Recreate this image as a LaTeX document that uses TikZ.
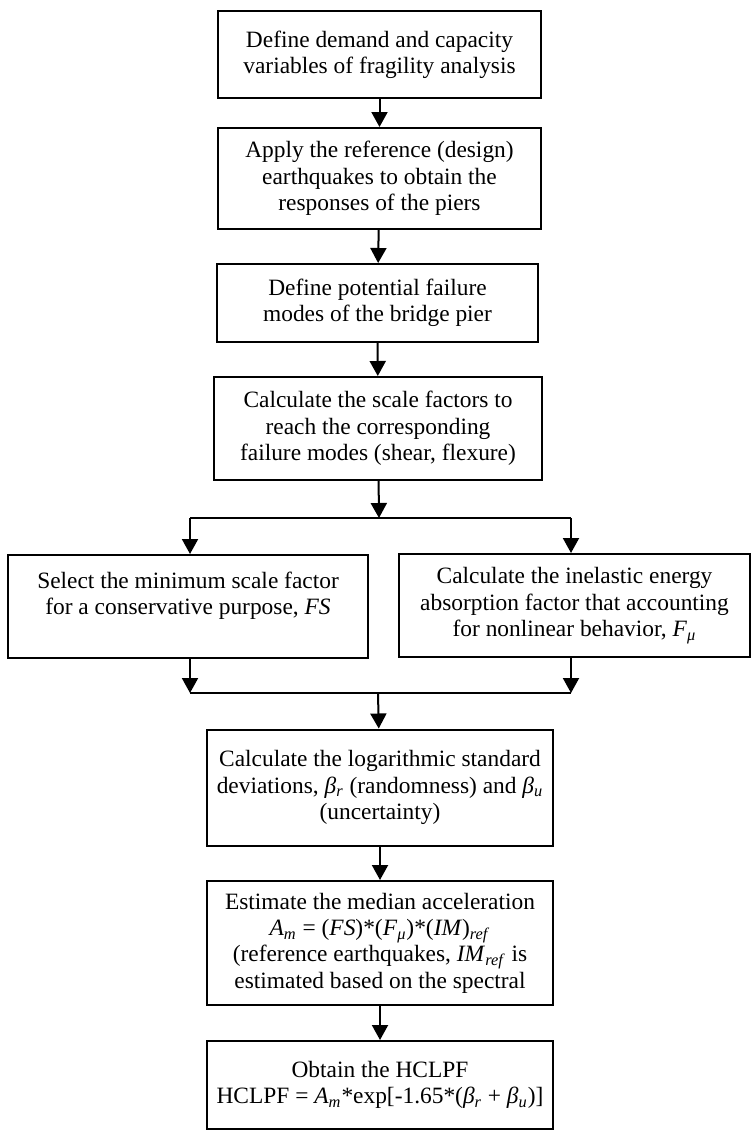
\documentclass[tikz,border=0pt]{standalone}
\usepackage{fontspec}
\setmainfont{Liberation Serif}
\usepackage{tikz}
\usetikzlibrary{arrows.meta}

\newcommand{\isub}[1]{\textsubscript{\textit{#1}}}

\tikzset{
    box/.style={draw, line width=1pt, align=center, inner sep=0pt,
        font=\fontsize{11.7}{13.2}\selectfont},
    arr/.style={line width=1pt, -{Triangle[length=7.5pt,width=8pt]}}
}

\begin{document}
\begin{tikzpicture}[x=0.5pt, y=-0.5pt]
    \useasboundingbox (0,0) rectangle (752,1130);

    % Boxes
    \node[box, minimum width=161.5pt, minimum height=43.5pt] (b1) at (379.5,54.5)
        {Define demand and capacity\\ variables of fragility analysis};
    \node[box, minimum width=161.5pt, minimum height=50.5pt] (b2) at (379.5,178.5)
        {Apply the reference (design)\\ earthquakes to obtain the\\ responses of the piers};
    \node[box, minimum width=160.5pt, minimum height=39pt] (b3) at (377.5,303)
        {Define potential failure\\ modes of the bridge pier};
    \node[box, minimum width=164pt, minimum height=51.5pt] (b4) at (378,428.5)
        {Calculate the scale factors to\\ reach the corresponding\\ failure modes (shear, flexure)};

    \node[box, minimum width=180pt, minimum height=51.5pt] (fs) at (188,606.5)
        {Select the minimum scale factor\\ for a conservative purpose, \textit{FS}\\ \mbox{}};
    \node[box, minimum width=175.5pt, minimum height=51.5pt] (fu) at (574.5,605.5)
        {Calculate the inelastic energy\\ absorption factor that accounting\\ for nonlinear behavior, \textit{F}\isub{μ}};

    \node[box, minimum width=173pt, minimum height=58pt] (b5) at (380,787.5)
        {Calculate the logarithmic standard\\ deviations, \textit{β}\isub{r} (randomness) and \textit{β}\isub{u}\\ (uncertainty)};
    \node[box, minimum width=173pt, minimum height=62pt] (b6) at (380,943)
        {Estimate the median acceleration\\
         \textit{A}\isub{m} = (\textit{FS})*(\textit{F}\isub{μ})*(\textit{IM})\isub{ref}\\
         (reference earthquakes, \textit{IM}\isub{ref} is\\
         estimated based on the spectral};
    \node[box, minimum width=173pt, minimum height=44pt] (b7) at (380,1085)
        {Obtain the HCLPF\\ HCLPF = \textit{A}\isub{m}*exp[-1.65*(\textit{β}\isub{r} + \textit{β}\isub{u})]};

    % Junctions
    \coordinate (j1) at (379,518);
    \coordinate (j1l) at (190,518);
    \coordinate (j1r) at (571,518);
    \coordinate (j2) at (378,693);
    \coordinate (j2l) at (190,693);
    \coordinate (j2r) at (571,693);

    % Arrows
    \draw[arr] (b1) -- (b2);
    \draw[arr] (b2) -- (b3);
    \draw[arr] (b3) -- (b4);
    \draw[arr] (b4) -- (j1);
    \draw[line width=1pt] (j1l) -- (j1r);
    \draw[arr] (j1l) -- (j1l |- fs.north);
    \draw[arr] (j1r) -- (j1r |- fu.north);
    \draw[arr] (j2l |- fs.south) -- (j2l);
    \draw[arr] (j2r |- fu.south) -- (j2r);
    \draw[line width=1pt] (j2l) -- (j2r);
    \draw[arr] (j2) -- (b5);
    \draw[arr] (b5) -- (b6);
    \draw[arr] (b6) -- (b7);
\end{tikzpicture}
\end{document}
